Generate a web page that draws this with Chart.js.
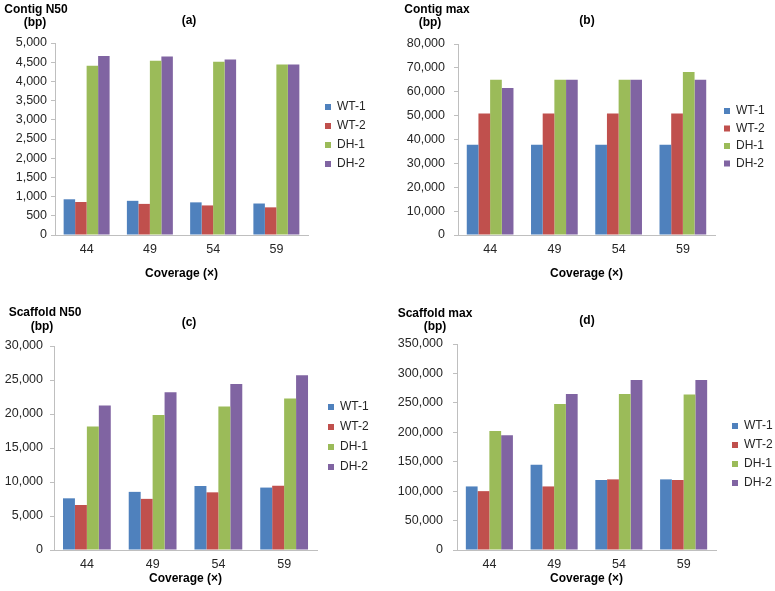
<!DOCTYPE html>
<html>
<head>
<meta charset="utf-8">
<script src="https://cdn.jsdelivr.net/npm/chart.js@4.4.1/dist/chart.umd.min.js"></script>
<style>
  html, body { margin: 0; padding: 0; background: #fff; }
  #wrap { position: relative; width: 775px; height: 591px; }
  canvas { position: absolute; }
</style>
</head>
<body>
<div id="wrap">
  <canvas id="chartA" width="387" height="290" style="left:0;top:0"></canvas>
  <canvas id="chartB" width="388" height="290" style="left:387px;top:0"></canvas>
  <canvas id="chartC" width="387" height="301" style="left:0;top:290px"></canvas>
  <canvas id="chartD" width="388" height="301" style="left:387px;top:290px"></canvas>
</div>
<script>
// ---- data ----
const coverage = ['44', '49', '54', '59'];
const seriesNames = ['WT-1', 'WT-2', 'DH-1', 'DH-2'];
const seriesColors = ['#4F81BD', '#C0504D', '#9BBB59', '#8064A2'];

// (a) Contig N50 (bp)
const contigN50WT1 = [930, 890, 850, 820];
const contigN50WT2 = [860, 810, 770, 720];
const contigN50DH1 = [4410, 4540, 4510, 4440];
const contigN50DH2 = [4660, 4650, 4570, 4440];

// (b) Contig max (bp)
const contigMaxWT1 = [37800, 37800, 37800, 37800];
const contigMaxWT2 = [50900, 50900, 50900, 50900];
const contigMaxDH1 = [65000, 65000, 65000, 68300];
const contigMaxDH2 = [61600, 65000, 65000, 65000];

// (c) Scaffold N50 (bp)
const scaffoldN50WT1 = [7600, 8550, 9420, 9180];
const scaffoldN50WT2 = [6620, 7520, 8480, 9460];
const scaffoldN50DH1 = [18150, 19870, 21100, 22280];
const scaffoldN50DH2 = [21250, 23200, 24420, 25700];

// (d) Scaffold max (bp)
const scaffoldMaxWT1 = [108000, 145000, 119000, 120000];
const scaffoldMaxWT2 = [100000, 108000, 120000, 119000];
const scaffoldMaxDH1 = [202000, 248000, 265000, 264000];
const scaffoldMaxDH2 = [195000, 265000, 289000, 289000];

const AXIS_COLOR = '#BFBFBF';
const TEXT_COLOR = '#262626';
Chart.defaults.font.family = '"Liberation Sans", Arial, sans-serif';

// moves the legend to a fixed spot and draws the corner labels
const panelLayout = {
  id: 'panelLayout',
  afterLayout(chart, args, opts) {
    const lg = chart.legend;
    if (!lg) return;
    lg.left = opts.legendX - opts.legendPad;
    lg.right = chart.width;
    lg.width = lg.right - lg.left;
    lg.top = opts.legendY - opts.legendFont / 2 - opts.legendPad;
    lg.bottom = lg.top + lg.height;
  },
  afterDraw(chart, args, opts) {
    const ctx = chart.ctx;
    ctx.save();
    ctx.fillStyle = '#000';
    ctx.textAlign = 'center';
    ctx.textBaseline = 'middle';
    ctx.font = 'bold 12px "Liberation Sans", Arial, sans-serif';
    opts.labels.forEach(l => ctx.fillText(l.text, l.x, l.y));
    ctx.restore();
  }
};

function makePanel(id, cfg) {
  const canvas = document.getElementById(id);
  const W = canvas.width, H = canvas.height;
  const LEGEND_W = 20;

  return new Chart(canvas, {
    type: 'bar',
    data: {
      labels: coverage,
      datasets: cfg.values.map((v, i) => ({
        label: seriesNames[i],
        data: v,
        backgroundColor: seriesColors[i],
        borderWidth: 0,
        barPercentage: 1,
        categoryPercentage: 0.727
      }))
    },
    options: {
      responsive: false,
      animation: false,
      locale: 'en-US',
      layout: {
        padding: { left: 0, top: cfg.area.top, right: W - cfg.area.right - LEGEND_W, bottom: 0 }
      },
      plugins: {
        tooltip: { enabled: false },
        legend: {
          position: 'right',
          align: 'start',
          maxWidth: LEGEND_W,
          labels: {
            boxWidth: 6,
            boxHeight: 6,
            padding: cfg.legend.pad,
            color: TEXT_COLOR,
            font: { size: 12 }
          }
        },
        panelLayout: {
          legendX: cfg.legend.x,
          legendY: cfg.legend.y,
          legendPad: cfg.legend.pad,
          legendFont: 12,
          labels: cfg.labels
        }
      },
      scales: {
        x: {
          grid: { display: false, drawTicks: false, tickLength: 0 },
          border: { color: AXIS_COLOR },
          ticks: { padding: 7, color: TEXT_COLOR, font: { size: 12.5 } },
          title: {
            display: true,
            text: 'Coverage (×)',
            color: '#000',
            font: { size: 12, weight: 'bold' },
            padding: { top: 0, bottom: cfg.xTitlePad }
          },
          afterFit(scale) { scale.height = H - cfg.area.bottom; }
        },
        y: {
          min: 0,
          max: cfg.max,
          ticks: { stepSize: cfg.step, padding: cfg.tickPad, color: TEXT_COLOR, font: { size: 12.5 } },
          grid: { drawOnChartArea: false, tickLength: 4, color: AXIS_COLOR },
          border: { color: AXIS_COLOR },
          afterFit(scale) { scale.width = cfg.area.left; }
        }
      }
    },
    plugins: [panelLayout]
  });
}

makePanel('chartA', {
  values: [contigN50WT1, contigN50WT2, contigN50DH1, contigN50DH2],
  max: 5000, step: 500, tickPad: 4,
  area: { left: 55, right: 308, top: 43, bottom: 235 },
  xTitlePad: 9,
  legend: { x: 325, y: 107, pad: 7 },
  labels: [
    { text: 'Contig N50', x: 36, y: 10 },
    { text: '(bp)', x: 35, y: 23 },
    { text: '(a)', x: 189, y: 21 }
  ]
});

makePanel('chartB', {
  values: [contigMaxWT1, contigMaxWT2, contigMaxDH1, contigMaxDH2],
  max: 80000, step: 10000, tickPad: 9,
  area: { left: 71, right: 328, top: 44, bottom: 235 },
  xTitlePad: 9,
  legend: { x: 337, y: 111, pad: 5.5 },
  labels: [
    { text: 'Contig max', x: 50, y: 10 },
    { text: '(bp)', x: 43, y: 23 },
    { text: '(b)', x: 200, y: 21 }
  ]
});

makePanel('chartC', {
  values: [scaffoldN50WT1, scaffoldN50WT2, scaffoldN50DH1, scaffoldN50DH2],
  max: 30000, step: 5000, tickPad: 7,
  area: { left: 54, right: 317, top: 56, bottom: 260 },
  xTitlePad: 5,
  legend: { x: 328, y: 117, pad: 8 },
  labels: [
    { text: 'Scaffold N50', x: 45, y: 23 },
    { text: '(bp)', x: 42, y: 37 },
    { text: '(c)', x: 189, y: 33 }
  ]
});

makePanel('chartD', {
  values: [scaffoldMaxWT1, scaffoldMaxWT2, scaffoldMaxDH1, scaffoldMaxDH2],
  max: 350000, step: 50000, tickPad: 10,
  area: { left: 70, right: 329, top: 54, bottom: 260 },
  xTitlePad: 5,
  legend: { x: 345, y: 136, pad: 7 },
  labels: [
    { text: 'Scaffold max', x: 48, y: 24 },
    { text: '(bp)', x: 48, y: 37 },
    { text: '(d)', x: 200, y: 31 }
  ]
});
</script>
</body>
</html>
